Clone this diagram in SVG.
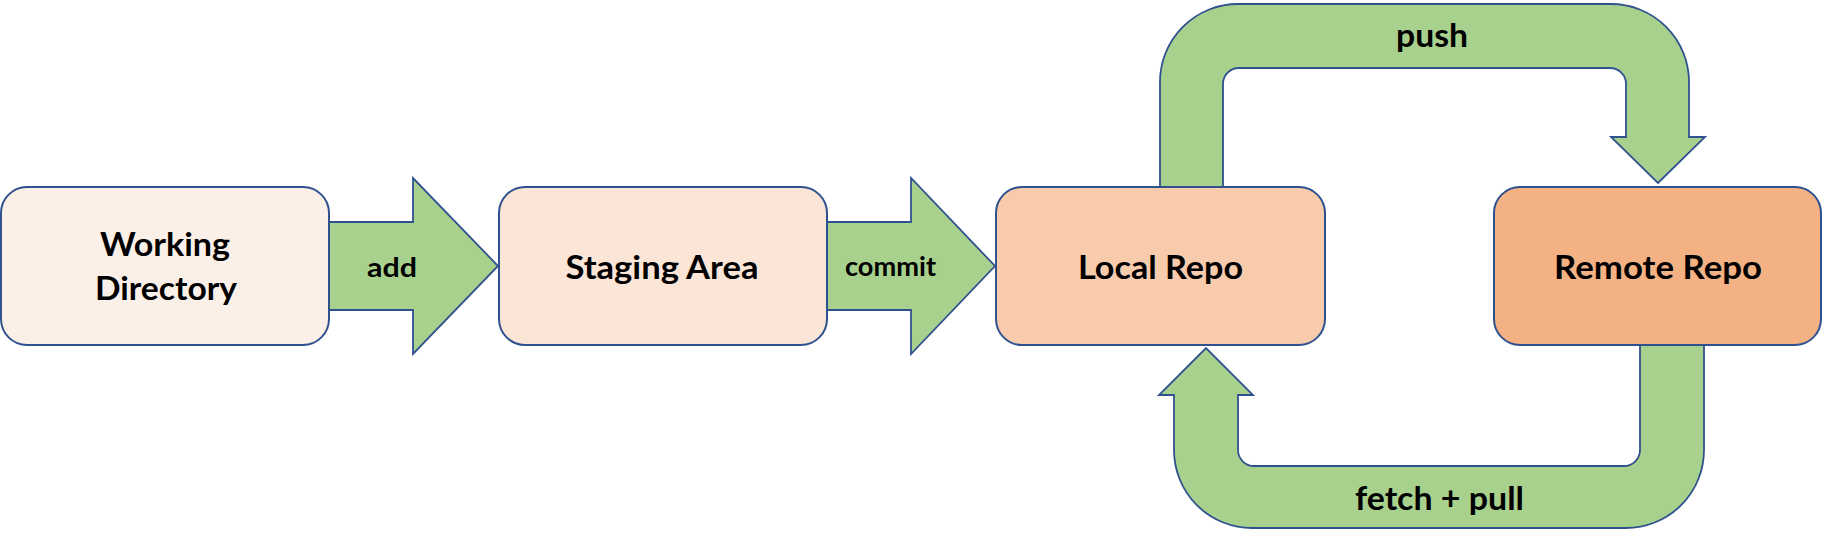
<svg xmlns="http://www.w3.org/2000/svg" width="1823" height="544" viewBox="0 0 1823 544">
<style>
.box{stroke:#2F528F;stroke-width:2}
.arr{fill:#A9D18E;stroke:#2F528F;stroke-width:1.8;stroke-linejoin:miter}
text{font-family:Lato,"Liberation Sans",sans-serif;font-weight:bold;fill:#000;text-anchor:middle}
.big{font-size:33px}
.small{font-size:27px}
</style>
<rect width="1823" height="544" fill="#FFFFFF"/>
<g id="connectors">
<path class="arr" d="M329,222 H413 V178 L498,266 L413,354 V310 H329 Z"/>
<path class="arr" d="M827,222 H911 V178 L995,266 L911,354 V310 H827 Z"/>
<path class="arr" d="M1160,188 V82 A78,78 0 0 1 1238,4 H1611 A78,78 0 0 1 1689,82 V137 H1705 L1658,183 L1611,137 H1626 V84 A16,16 0 0 0 1610,68 H1239 A16,16 0 0 0 1223,84 V188 Z"/>
<path class="arr" d="M1640,345 V450 A16,16 0 0 1 1624,466 H1254 A16,16 0 0 1 1238,450 V395 H1253 L1206,348 L1159,395 H1174 V450 A78,78 0 0 0 1252,528 H1626 A78,78 0 0 0 1704,450 V345 Z"/>
<text class="small" x="392" y="277" textLength="50" lengthAdjust="spacingAndGlyphs">add</text>
<text class="small" x="890.5" y="276" textLength="91" lengthAdjust="spacingAndGlyphs">commit</text>
<text class="big" x="1432" y="47" textLength="72" lengthAdjust="spacingAndGlyphs">push</text>
<text class="big" x="1439.5" y="510" textLength="169" lengthAdjust="spacingAndGlyphs">fetch + pull</text>
</g>
<g id="working-directory">
<rect class="box" x="1" y="187" width="328" height="158" rx="26" fill="#FBF0E8"/>
<text class="big" x="165" y="256" textLength="130" lengthAdjust="spacingAndGlyphs">Working</text>
<text class="big" x="166" y="300" textLength="142" lengthAdjust="spacingAndGlyphs">Directory</text>
</g>
<g id="staging-area">
<rect class="box" x="499" y="187" width="328" height="158" rx="26" fill="#FBE5D6"/>
<text class="big" x="662" y="279" textLength="193" lengthAdjust="spacingAndGlyphs">Staging Area</text>
</g>
<g id="local-repo">
<rect class="box" x="996" y="187" width="329" height="158" rx="26" fill="#F8CBAD"/>
<text class="big" x="1160.5" y="279" textLength="165" lengthAdjust="spacingAndGlyphs">Local Repo</text>
</g>
<g id="remote-repo">
<rect class="box" x="1494" y="187" width="327" height="158" rx="26" fill="#F4B183"/>
<text class="big" x="1658" y="279" textLength="208" lengthAdjust="spacingAndGlyphs">Remote Repo</text>
</g>
</svg>
